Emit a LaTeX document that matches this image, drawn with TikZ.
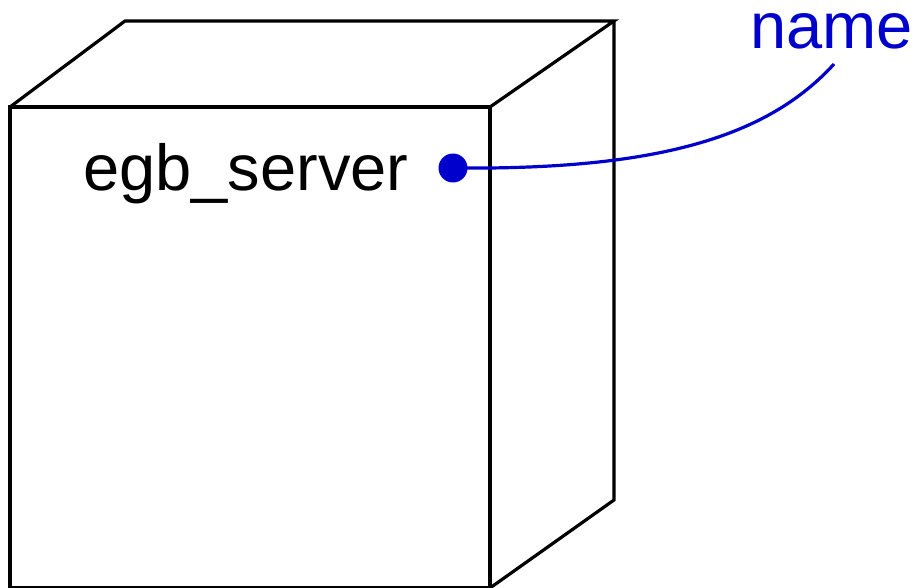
\documentclass[tikz,border=0pt]{standalone}
\usepackage{fontspec}
\setmainfont{Liberation Sans}
\definecolor{umlblue}{RGB}{0,0,205}
\begin{document}
\begin{tikzpicture}[x=1pt,y=-1pt,
  edge/.style={line width=3.2pt,line join=miter,black},
  lbl/.style={inner sep=0pt,font=\fontsize{65}{78}\selectfont},
  dotstyle/.style={circle,fill=umlblue,inner sep=0pt,minimum size=29pt},
  link/.style={line width=3.2pt,umlblue}]
\useasboundingbox (0,0) rectangle (920,588);
% cube
\coordinate (fl) at (10,107);
\coordinate (fr) at (490,107);
\coordinate (bl) at (125,21);
\coordinate (br) at (614,21);
\coordinate (rb) at (614,500);
\coordinate (frb) at (490,588);
\coordinate (flb) at (10,588);
\draw[edge] (flb) -- (fl) -- (fr) -- (frb) -- cycle;
\draw[edge] (fl) -- (bl) -- (br) -- (fr);
\draw[edge] (br) -- (rb) -- (frb);
% labels
\node[lbl,anchor=base west] (srv) at (83,190) {egb\_server};
\node[dotstyle] (dot) at (453,168) {};
\node[lbl,anchor=base west,text=umlblue] (name) at (750,49) {name};
\coordinate (nameend) at (834,64);
\draw[link] (dot.center) .. controls (650,170) and (765,140) .. (nameend);
\end{tikzpicture}
\end{document}
